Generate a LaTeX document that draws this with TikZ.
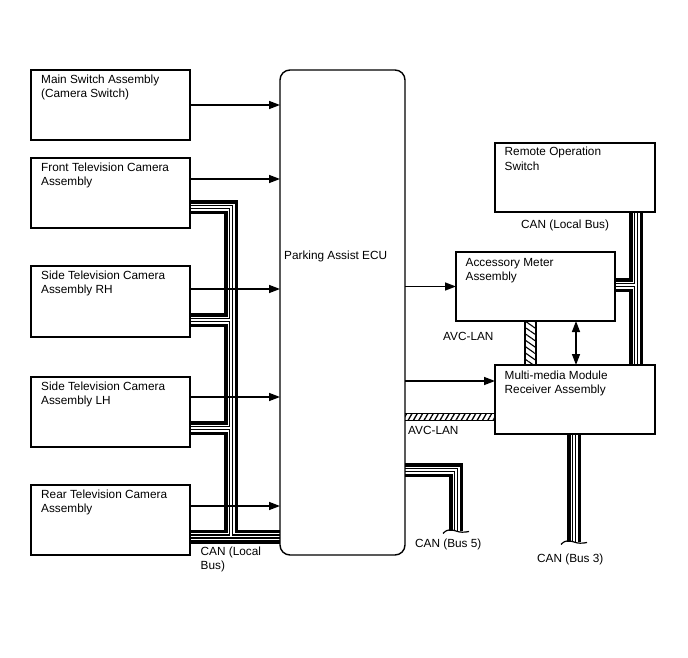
\documentclass[tikz,border=0pt]{standalone}
\usepackage{fontspec}
\setmainfont{Liberation Sans}
\usetikzlibrary{arrows.meta,calc,patterns.meta}
\pgfdeclarelayer{bg}
\pgfsetlayers{bg,main}
\newcommand\twol[2]{\vtop{\hbox{#1}\hbox{#2}}}
\newcommand\canbus[1]{%
  \draw[line width=14pt,black] #1;
  \draw[line width=7pt,white] #1;
  \draw[line width=4.6pt,black] #1;
  \draw[line width=1.8pt,white] #1;}
\begin{document}
\begin{tikzpicture}[x=1pt,y=-1pt,
  line join=miter, line cap=butt,
  every node/.style={font=\fontsize{11.8}{14.3}\selectfont},
  unit/.style 2 args={draw, line width=1.4pt, minimum width=#1, minimum height=#2,
    anchor=north west, inner sep=0pt, outer sep=0pt},
  lbl/.style={anchor=base west, inner sep=0pt},
  arr/.style={line width=1.4pt, -{Triangle[length=11pt,width=8pt]}},
  darr/.style={line width=1.4pt, {Triangle[length=11pt,width=8pt]}-{Triangle[length=11pt,width=8pt]}},
  hatchH/.style={pattern={Lines[angle=60,distance=4.6pt,line width=1.3pt]}},
  hatchV/.style={pattern={Lines[angle=-35,distance=5.2pt,line width=1.1pt]}},
  edge/.style={line width=1.3pt},
  brk/.style={line width=1.2pt}
]
\useasboundingbox (0,0) rectangle (688,658);

% units
\node[unit={159pt}{70pt}] (main) at (31,70) {};
\node[unit={159pt}{70pt}] (front) at (31,158) {};
\node[unit={159pt}{71pt}] (rh) at (31,266) {};
\node[unit={159pt}{70pt}] (lh) at (31,377) {};
\node[unit={159pt}{70pt}] (rear) at (31,485) {};
\node[unit={125pt}{485pt}, rounded corners=10pt] (ecu) at (280,70) {};
\node[unit={160pt}{69pt}] (remote) at (495,143) {};
\node[unit={159pt}{69pt}] (acc) at (456,252) {};
\node[unit={160pt}{69pt}] (mm) at (495,365) {};

% bus coordinates
\coordinate (fb) at ($(front.east)+(0,14)$);
\coordinate (rhb) at ($(rh.east)+(0,18.5)$);
\coordinate (lhb) at ($(lh.east)+(0,16)$);
\coordinate (rb) at ($(rear.east)+(0,16.5)$);
\coordinate (tk) at ($(fb)+(41,0)$);
\coordinate (rt1) at ($(remote.south east)+(-19,0)$);
\coordinate (rt2) at ($(mm.north east)+(-19,0)$);
\coordinate (accb) at ($(acc.east)+(0,-1.5)$);
\coordinate (b5s) at ($(ecu.east)+(0,157.5)$);
\coordinate (b5e) at (456,531);
\coordinate (b3s) at ($(mm.south)+(-1,0)$);
\coordinate (b3e) at ($(b3s)+(0,108)$);
\coordinate (av1) at ($(ecu.east)+(0,101)$);
\coordinate (av2) at ($(av1 -| mm.west)+(0,7)$);
\coordinate (av3) at ($(acc.south)+(-10.5,0)$);
\coordinate (av4) at ($(av3 |- mm.north)+(11,0)$);

\begin{pgfonlayer}{bg}
  \fill[white] (0,0) rectangle (688,658);
  \canbus{(fb) -| (rb -| tk) (rhb) -- (rhb -| tk) (lhb) -- (lhb -| tk) (rb) -- (rb -| ecu.west)}
  \canbus{(rt1) -- (rt2) (accb) -- (accb -| rt1)}
  \canbus{(b5s) -| (b5e)}
  \canbus{(b3s) -- (b3e)}
  \path[hatchH] (av1) rectangle (av2);
  \path[hatchV] (av3) rectangle (av4);
\end{pgfonlayer}

% AVC-LAN borders
\draw[edge] (av1) -- (av1 -| av2);
\draw[edge] (av1 |- av2) -- (av2);
\draw[edge] (av3) -- (av3 |- av4);
\draw[edge] (av3 -| av4) -- (av4);

% break marks
\draw[brk] ($(b5e)+(-13,2.5)$) .. controls ($(b5e)+(-8,-3)$) and ($(b5e)+(-4,-1)$) .. (b5e)
  .. controls ($(b5e)+(4,1.5)$) and ($(b5e)+(8,1.5)$) .. ($(b5e)+(13,0.5)$);
\draw[brk] ($(b3e)+(-13,2.5)$) .. controls ($(b3e)+(-8,-3)$) and ($(b3e)+(-4,-1)$) .. (b3e)
  .. controls ($(b3e)+(4,1.5)$) and ($(b3e)+(8,1.5)$) .. ($(b3e)+(13,0.5)$);

% signal arrows
\coordinate (fa) at ($(front.east)+(0,-14)$);
\coordinate (rha) at ($(rh.east)+(0,-12.5)$);
\coordinate (lha) at ($(lh.east)+(0,-15)$);
\coordinate (ra) at ($(rear.east)+(0,-14)$);
\coordinate (ma) at ($(mm.west)+(0,-18.5)$);
\coordinate (da) at ($(acc.south)+(40.5,0)$);
\draw[arr] (main.east) -- (main.east -| ecu.west);
\draw[arr] (fa) -- (fa -| ecu.west);
\draw[arr] (rha) -- (rha -| ecu.west);
\draw[arr] (lha) -- (lha -| ecu.west);
\draw[arr] (ra) -- (ra -| ecu.west);
\draw[arr] (acc.west -| ecu.east) -- (acc.west);
\draw[arr] (ma -| ecu.east) -- (ma);
\draw[darr] (da) -- (da |- mm.north);

% texts
\node[lbl] (mainT) at ($(main.north west)+(10,13.5)$) {\twol{Main Switch Assembly}{(Camera Switch)}};
\node[lbl] (frontT) at ($(front.north west)+(10,13.5)$) {\twol{Front Television Camera}{Assembly}};
\node[lbl] (rhT) at ($(rh.north west)+(10,13.5)$) {\twol{Side Television Camera}{Assembly RH}};
\node[lbl] (lhT) at ($(lh.north west)+(10,13.5)$) {\twol{Side Television Camera}{Assembly LH}};
\node[lbl] (rearT) at ($(rear.north west)+(10,13.5)$) {\twol{Rear Television Camera}{Assembly}};
\node[lbl] (ecuT) at ($(ecu.north west)+(4,189)$) {Parking Assist ECU};
\node[lbl] (remoteT) at ($(remote.north west)+(9.5,13)$) {\twol{Remote Operation}{Switch}};
\node[lbl] (accT) at ($(acc.north west)+(9.5,14)$) {\twol{Accessory Meter}{Assembly}};
\node[lbl] (mmT) at ($(mm.north west)+(9.5,14)$) {\twol{Multi-media Module}{Receiver Assembly}};

\node[lbl] (canR) at (521,228.5) {CAN (Local Bus)};
\node[lbl] (avcA) at (443,340.5) {AVC-LAN};
\node[lbl] (avcB) at (408,434.5) {AVC-LAN};
\node[lbl] (can5) at (415,547.5) {CAN (Bus 5)};
\node[lbl] (can3) at (537,562.5) {CAN (Bus 3)};
\node[lbl] (canL) at (200.5,555) {\twol{CAN (Local}{Bus)}};
\end{tikzpicture}
\end{document}
